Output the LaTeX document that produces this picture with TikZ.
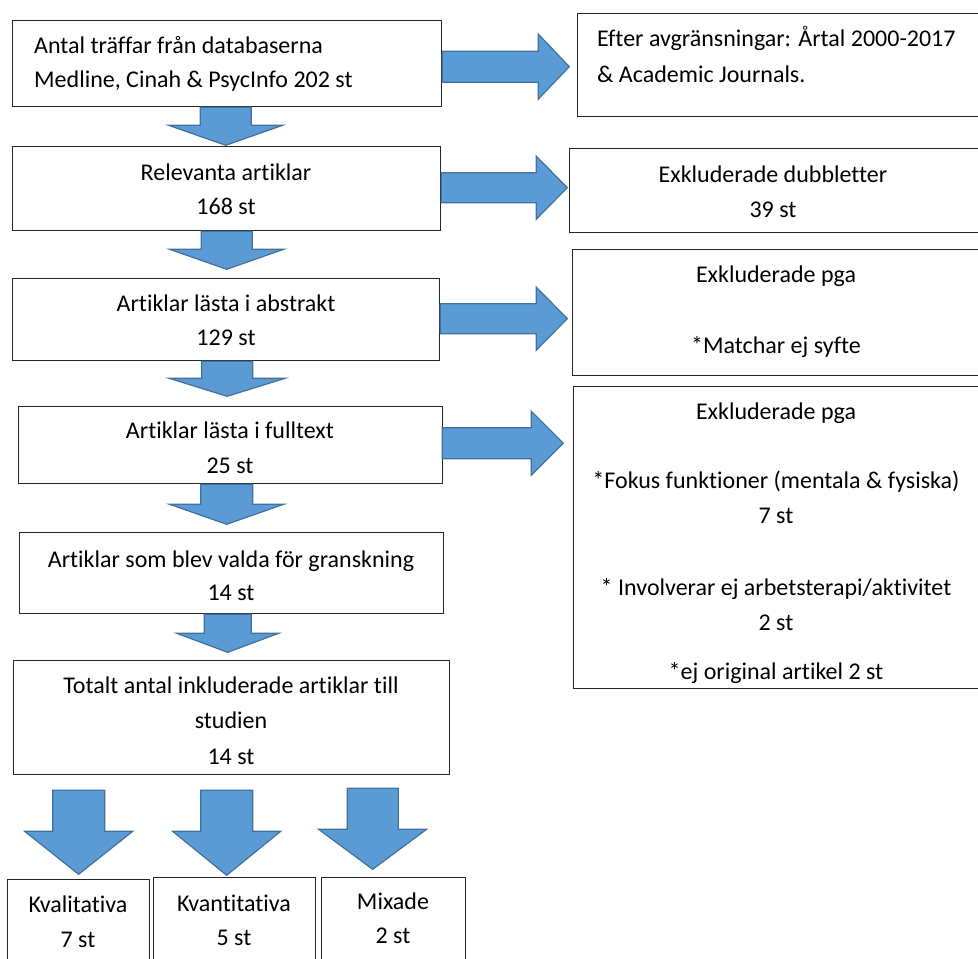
\documentclass[tikz,border=0pt]{standalone}
\usepackage{fontspec}
\setmainfont{Carlito}[Ligatures=NoCommon]
\usetikzlibrary{calc}
\definecolor{arrfill}{HTML}{5B9BD5}
\definecolor{arrline}{HTML}{41719C}
\tikzset{
  box/.style={draw=black!85, line width=1.3pt, fill=white, anchor=north west, inner sep=0pt},
  blk/.style={fill=arrfill, draw=arrline, line width=1.2pt, line join=miter},
  txt/.style={anchor=base, inner sep=0pt, font=\fontsize{24}{34}\selectfont},
  txtl/.style={anchor=base west, inner sep=0pt, font=\fontsize{24}{34}\selectfont},
}
% right block arrow: start, shaft length, head length, shaft half, head half
\newcommand\rblock[5]{\filldraw[blk] #1 ++(0,-#4) -- ++(#2,0) -- ++(0,-#5+#4) -- ++(#3,#5) -- ++(-#3,#5) -- ++(0,-#5+#4) -- ++(-#2,0) -- cycle;}
% down block arrow: start (top centre of shaft), shaft length, head length, shaft half, head half
\newcommand\dblock[5]{\filldraw[blk] #1 ++(-#4,0) -- ++(0,#2) -- ++(-#5+#4,0) -- ++(#5,#3) -- ++(#5,-#3) -- ++(-#5+#4,0) -- ++(0,-#2) -- cycle;}
\begin{document}
\begin{tikzpicture}[x=1pt,y=-1pt]
\useasboundingbox (0,0) rectangle (978,959);
% left column boxes
\node[box, minimum width=429pt, minimum height=86pt] (b1) at (12,20) {};
\node[box, minimum width=428pt, minimum height=84pt] (b2) at (12,146) {};
\node[box, minimum width=427pt, minimum height=82pt] (b3) at (12,278) {};
\node[box, minimum width=424pt, minimum height=77pt] (b4) at (18,406) {};
\node[box, minimum width=424pt, minimum height=81pt] (b5) at (19,532) {};
\node[box, minimum width=436pt, minimum height=114pt] (b6) at (13,660) {};
\node[box, minimum width=142pt, minimum height=100pt] (k1) at (7,879) {};
\node[box, minimum width=162pt, minimum height=100pt] (k2) at (153,877) {};
\node[box, minimum width=144pt, minimum height=100pt] (k3) at (321,877) {};
% right column boxes
\node[box, minimum width=402pt, minimum height=103pt] (e1) at (577,13) {};
\node[box, minimum width=410pt, minimum height=84pt] (e2) at (569,148) {};
\node[box, minimum width=407pt, minimum height=126pt] (e3) at (572,249) {};
\node[box, minimum width=406pt, minimum height=302pt] (e4) at (573,386) {};
% texts
\node[txtl] (t1a) at (34,53) {Antal träffar från databaserna};
\node[txtl] (t1b) at (34,87) {Medline, Cinah \& PsycInfo 202 st};
\node[txt] (t2a) at (226,180) {Relevanta artiklar};
\node[txt] (t2b) at (226,214) {168 st};
\node[txt] (t3a) at (226,311) {Artiklar lästa i abstrakt};
\node[txt] (t3b) at (226,345) {129 st};
\node[txt] (t4a) at (230,438) {Artiklar lästa i fulltext};
\node[txt] (t4b) at (230,473) {25 st};
\node[txt] (t5a) at (231,567) {Artiklar som blev valda för granskning};
\node[txt] (t5b) at (231,600) {14 st};
\node[txt] (t6a) at (231,693) {Totalt antal inkluderade artiklar till};
\node[txt] (t6b) at (231,728) {studien};
\node[txt] (t6c) at (231,764) {14 st};
\node[txt] (tk1a) at (78,912) {Kvalitativa};
\node[txt] (tk1b) at (78,947) {7 st};
\node[txt] (tk2a) at (234,911) {Kvantitativa};
\node[txt] (tk2b) at (234,945) {5 st};
\node[txt] (tk3a) at (393,909) {Mixade};
\node[txt] (tk3b) at (393,943) {2 st};
\node[txtl] (te1a) at (597,46) {Efter avgränsningar: Årtal 2000-2017};
\node[txtl] (te1b) at (597,82) {\& Academic Journals.};
\node[txt] (te2a) at (773,182) {Exkluderade dubbletter};
\node[txt] (te2b) at (773,217) {39 st};
\node[txt] (te3a) at (776,282) {Exkluderade pga};
\node[txt] (te3b) at (776,353) {*Matchar ej syfte};
\node[txt] (te4a) at (776,419) {Exkluderade pga};
\node[txt] (te4b) at (776,488) {*Fokus funktioner (mentala \& fysiska)};
\node[txt] (te4c) at (776,523) {7 st};
\node[txt] (te4d) at (776,595) {* Involverar ej arbetsterapi/aktivitet};
\node[txt] (te4e) at (776,630) {2 st};
\node[txt] (te4f) at (776,679) {*ej original artikel 2 st};
% right block arrows
\rblock{($(b1.east)+(0,3)$)}{96}{31}{15.5}{32.5}
\rblock{($(b2.east)+(0,-1)$)}{95}{31}{15}{31.5}
\rblock{($(b3.east)+(0,-1)$)}{96}{31}{15}{31.5}
\rblock{($(b4.east)+(-1,-2)$)}{89}{32}{15.5}{32}
% down block arrows
\dblock{($(b1.south)+(-1.5,0)$)}{18}{20}{25.5}{57}
\dblock{($(b2.south)+(0,0)$)}{18}{20}{25.5}{57}
\dblock{($(b3.south)+(1,0)$)}{17}{18}{25.5}{58}
\dblock{($(b4.south)+(-4,0)$)}{20}{20}{26}{57}
\dblock{($(b5.south)+(-4,0)$)}{19}{19}{23.5}{51}
% bottom block arrows
\dblock{($(b6.south)+(-153,15)$)}{41}{43}{26}{54}
\dblock{($(b6.south)+(-5,15)$)}{41}{44}{26}{54}
\dblock{($(b6.south)+(141,13)$)}{41}{40}{25.5}{54}
\end{tikzpicture}
\end{document}
